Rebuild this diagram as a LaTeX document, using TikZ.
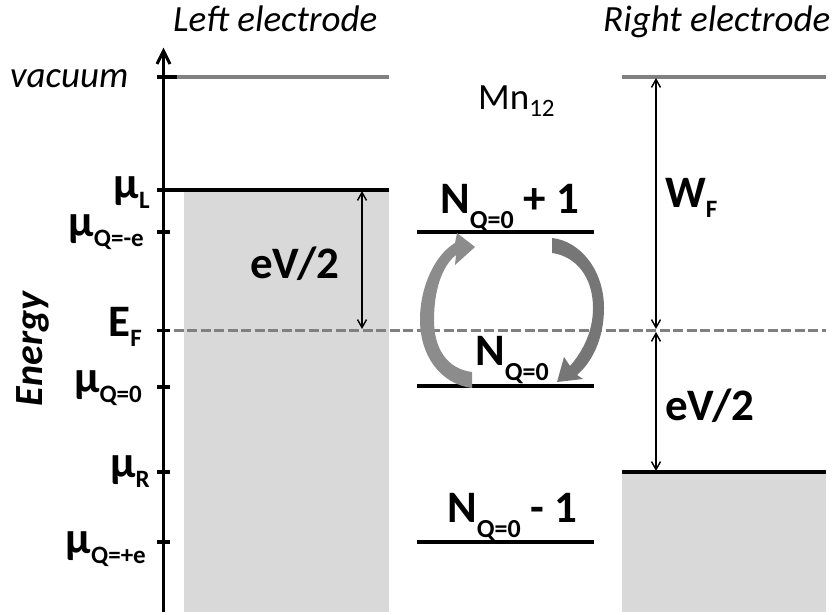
\documentclass[tikz,border=0pt]{standalone}
\usepackage{fontspec}
\setmainfont{Carlito}
\usetikzlibrary{arrows.meta}
\definecolor{boxgray}{RGB}{217,217,217}
\definecolor{linegray}{RGB}{128,128,128}
\definecolor{arrgrayA}{RGB}{140,140,140}
\definecolor{arrgrayB}{RGB}{118,118,118}
\newcommand{\lsub}[1]{\raisebox{-10pt}{\fontsize{25}{25}\selectfont #1}}
\newcommand{\nsub}[1]{\raisebox{-15pt}{\fontsize{26}{26}\selectfont #1}}
\begin{document}
\begin{tikzpicture}[x=1pt,y=-1pt,
  lbl/.style={inner sep=0pt, font=\fontsize{45}{45}\selectfont\bfseries},
  ttl/.style={inner sep=0pt, font=\fontsize{37}{37}\selectfont\itshape},
  reg/.style={inner sep=0pt, font=\fontsize{37}{37}\selectfont},
  level/.style={line width=3.5pt, black},
  vac/.style={line width=3.3pt, linegray},
  tick/.style={line width=3.3pt, black},
  dim/.style={line width=1.4pt, {Straight Barb[length=8pt,width=9pt]}-{Straight Barb[length=8pt,width=9pt]}},
  fermi/.style={line width=3pt, linegray, dash pattern=on 10pt off 3.5pt, dash phase=4pt}]
\useasboundingbox (0,0) rectangle (837,615);
% electrode bands
\fill[boxgray] (184,190) rectangle (389,612);
\fill[boxgray] (622,472) rectangle (826,612);
% coordinates
\coordinate (axB) at (163.5,612);
\coordinate (axT) at (163.5,50);
\coordinate (vacL0) at (157,77);
\coordinate (vacL1) at (177,77);
\coordinate (vacL2) at (389,77);
\coordinate (vacR1) at (622,77);
\coordinate (vacR2) at (826,77);
\coordinate (muL0) at (157,190);
\coordinate (muL1) at (389,190);
\coordinate (muR1) at (622,472);
\coordinate (muR2) at (826,472);
\coordinate (ef1) at (164,330.5);
\coordinate (ef2) at (826,330.5);
\coordinate (tA0) at (157,232); \coordinate (tA1) at (170,232);
\coordinate (tB0) at (157,387); \coordinate (tB1) at (170,387);
\coordinate (tC0) at (157,472); \coordinate (tC1) at (170,472);
\coordinate (tD0) at (157,542); \coordinate (tD1) at (170,542);
\coordinate (tE0) at (157,330.5); \coordinate (tE1) at (170,330.5);
\coordinate (lvA0) at (417,232); \coordinate (lvA1) at (594,232);
\coordinate (lvB0) at (417,386); \coordinate (lvB1) at (594,386);
\coordinate (lvC0) at (417,542); \coordinate (lvC1) at (594,542);
\coordinate (leA) at (362,191); \coordinate (leB) at (362,329);
\coordinate (rwA) at (656,78); \coordinate (rwB) at (656,329);
\coordinate (reA) at (656,332); \coordinate (reB) at (656,471);
% dashed Fermi level
\draw[fermi] (ef1) -- (ef2);
% axis
\draw[line width=3.3pt] (axB) -- ([yshift=-2pt]axT);
\draw[line width=3pt, line join=miter] ([xshift=-6.5pt,yshift=-14pt]axT) -- ([yshift=-1pt]axT) -- ([xshift=6.5pt,yshift=-14pt]axT);
\draw[tick] (tA0) -- (tA1);
\draw[tick] (tB0) -- (tB1);
\draw[tick] (tC0) -- (tC1);
\draw[tick] (tD0) -- (tD1);
\draw[tick] (tE0) -- (tE1);
% vacuum
\draw[tick] (vacL0) -- (vacL1);
\draw[vac] (vacL1) -- (vacL2);
\draw[vac] (vacR1) -- (vacR2);
% electrode levels
\draw[level] (muL0) -- (muL1);
\draw[level] (muR1) -- (muR2);
% molecule levels
\draw[level] (lvA0) -- (lvA1);
\draw[level] (lvB0) -- (lvB1);
\draw[level] (lvC0) -- (lvC1);
% dimension arrows
\draw[dim] (leA) -- (leB);
\draw[dim] (rwA) -- (rwB);
\draw[dim] (reA) -- (reB);
% curved arrows
\fill[arrgrayA] (472,388) .. controls (440,384) and (420,355) .. (420,320)
  .. controls (420,285) and (436,254) .. (455,243) -- (457,233) -- (475,247)
  -- (455,265) -- (456,255) .. controls (442,266) and (434,290) .. (434,320)
  .. controls (434,350) and (448,369) .. (472,372) -- cycle;
\fill[arrgrayB] (552,238) .. controls (580,241) and (604,270) .. (604,308)
  .. controls (604,340) and (591,363) .. (577,375) -- (583,379) -- (557,382)
  -- (564,357) -- (570,366) .. controls (584,350) and (593,330) .. (593,308)
  .. controls (593,276) and (575,256) .. (552,253) -- cycle;
% titles
\node[ttl, anchor=base west] (tL) at (173,32) {Left electrode};
\node[ttl, anchor=base west] (tR) at (603,32) {Right electrode};
\node[ttl, anchor=base west] (tvac) at (10,88) {vacuum};
\node[reg, anchor=base west] (tMn) at (478,110) {Mn\raisebox{-7pt}{\fontsize{25}{25}\selectfont 12}};
\node[inner sep=0pt, font=\fontsize{40}{40}\selectfont\bfseries\itshape, rotate=90] (tEn) at (33,349) {Energy};
% axis labels
\node[lbl, anchor=base east] (lmuL) at (150,198) {μ\lsub{L}};
\node[lbl, anchor=base east] (lmuA) at (144,236) {μ\lsub{Q=-e}};
\node[lbl, anchor=base east] (lEF) at (142,336) {E\lsub{F}};
\node[lbl, anchor=base east] (lmuB) at (142,392) {μ\lsub{Q=0}};
\node[lbl, anchor=base east] (lmuR) at (150,477) {μ\lsub{R}};
\node[lbl, anchor=base east] (lmuC) at (146,553) {μ\lsub{Q=+e}};
\node[lbl, anchor=base west] (leV) at (250,278) {eV/2};
\node[lbl, anchor=base west] (rW) at (665,207) {W\lsub{F}};
\node[lbl, anchor=base west] (reV) at (665,420) {eV/2};
% molecule labels
\node[lbl, anchor=base west] (nA) at (440,213) {N\nsub{Q=0} + 1};
\node[lbl, anchor=base west] (nB) at (475,365) {N\nsub{Q=0}};
\node[lbl, anchor=base west] (nC) at (447,522) {N\nsub{Q=0} - 1};
\end{tikzpicture}
\end{document}
